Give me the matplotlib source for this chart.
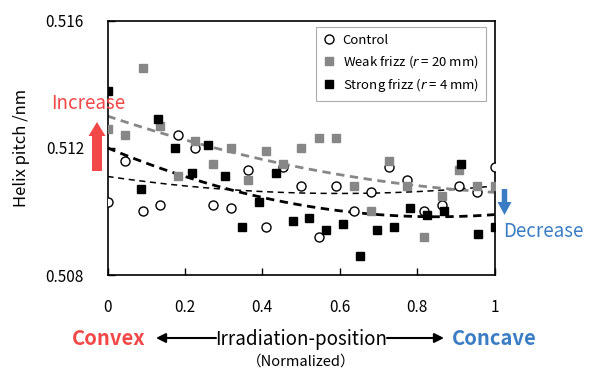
import numpy as np
import matplotlib
matplotlib.use("Agg")
import matplotlib.pyplot as plt

plt.rcParams["font.family"] = ["Noto Sans CJK JP", "DejaVu Sans"]
plt.rcParams["mathtext.fontset"] = "dejavusans"

# data
x_control = [i / 22 for i in range(23)]
control = [0.5103, 0.5116, 0.5100, 0.5102, 0.5124, 0.5120, 0.5102, 0.5101,
           0.5113, 0.5095, 0.5114, 0.5108, 0.5092, 0.5108, 0.5100, 0.5106,
           0.5114, 0.5110, 0.5100, 0.5102, 0.5108, 0.5106, 0.5114]

x_weak = [i / 22 for i in range(23)]
weak = [0.5126, 0.5124, 0.5145, 0.5127, 0.5111, 0.5122, 0.5115, 0.5120,
        0.5110, 0.5119, 0.5115, 0.5120, 0.5123, 0.5123, 0.5108, 0.5100,
        0.5116, 0.5108, 0.5092, 0.5105, 0.5113, 0.5108, 0.5108]

x_strong = [0, 2 / 23, 3 / 23, 4 / 23, 5 / 23, 6 / 23, 7 / 23, 8 / 23, 9 / 23,
            10 / 23, 11 / 23, 12 / 23, 13 / 23, 14 / 23, 15 / 23, 16 / 23,
            17 / 23, 18 / 23, 19 / 23, 20 / 23, 21 / 23, 22 / 23, 1]
strong = [0.5138, 0.5107, 0.5129, 0.5120, 0.5112, 0.5121, 0.5111, 0.5095,
          0.5103, 0.5112, 0.5097, 0.5098, 0.5094, 0.5096, 0.5086, 0.5094,
          0.5095, 0.5101, 0.5099, 0.5100, 0.5115, 0.5093, 0.5095]

# trend line values read at x = 0, 0.5, 1 (second order curves)
trend_x = [0, 0.5, 1]
trend_control = [0.5111, 0.51058, 0.5108]
trend_weak = [0.5130, 0.51138, 0.5106]
trend_strong = [0.5120, 0.51020, 0.50990]

x_ticks = [0, 0.2, 0.4, 0.6, 0.8, 1]
x_tick_labels = ["0", "0.2", "0.4", "0.6", "0.8", "1"]
y_ticks = [0.508, 0.512, 0.516]
y_tick_labels = ["0.508", "0.512", "0.516"]

W, H = 592, 369
RED = "#F24848"
BLUE = "#3B7DC4"
GRAY = "#878787"

fig = plt.figure(figsize=(W / 100, H / 100), dpi=100)
ax = fig.add_axes([107.5 / W, 1 - 275 / H, 387 / W, 254.3 / H])

ax.plot(x_control, control, "o", ms=6.5, mfc="white", mec="black", mew=1.0,
        label="Control", zorder=3)
ax.plot(x_weak, weak, "s", ms=6, color=GRAY, label=r"Weak frizz ($\it{r}$ = 20 mm)", zorder=4)
ax.plot(x_strong, strong, "s", ms=6, color="black", label=r"Strong frizz ($\it{r}$ = 4 mm)", zorder=5)

xx = np.linspace(0, 1, 200)
ax.plot(xx, np.polyval(np.polyfit(trend_x, trend_control, 2), xx), color="black",
        lw=1.1, dashes=(4, 3), zorder=2)
ax.plot(xx, np.polyval(np.polyfit(trend_x, trend_weak, 2), xx), color=GRAY,
        lw=2.0, dashes=(3, 2), zorder=2)
ax.plot(xx, np.polyval(np.polyfit(trend_x, trend_strong, 2), xx), color="black",
        lw=2.0, dashes=(3, 2), zorder=2)

ax.set_xlim(0, 1)
ax.set_ylim(0.508, 0.516)
ax.set_xticks(x_ticks)
ax.set_xticklabels(x_tick_labels)
ax.set_yticks(y_ticks)
ax.set_yticklabels(y_tick_labels)
ax.tick_params(direction="in", length=5, width=1, labelsize=11)
ax.tick_params(axis="x", pad=17)
ax.tick_params(axis="y", pad=17)
for s in ax.spines.values():
    s.set_linewidth(1.2)
ax.set_ylabel("Helix pitch /nm", fontsize=12)
ax.yaxis.set_label_coords(-0.2, 0.5)

leg = ax.legend(loc="upper right", bbox_to_anchor=(0.978, 0.976), borderaxespad=0,
                fancybox=False, edgecolor="#999999", fontsize=9.5, handlelength=0.9,
                handletextpad=0.6, labelspacing=0.45, borderpad=0.55)
leg.get_frame().set_linewidth(0.8)

# overlay in pixel coordinates for the annotations
ov = fig.add_axes([0, 0, 1, 1], zorder=10)
ov.set_xlim(0, W)
ov.set_ylim(H, 0)
ov.axis("off")

ov.text(88, 109, "Increase", color=RED, fontsize=13.5, ha="center", va="baseline")
ov.arrow(97, 171, 0, -49, width=10, head_width=17, head_length=14,
         length_includes_head=True, color=RED, lw=0)
ov.text(543, 237, "Decrease", color=BLUE, fontsize=13.5, ha="center", va="baseline")
ov.arrow(504.5, 189, 0, 26, width=5.5, head_width=14, head_length=13,
         length_includes_head=True, color=BLUE, lw=0)

ov.text(109, 345, "Convex", color=RED, fontsize=14.5, fontweight="bold",
        ha="center", va="baseline")
ov.text(301, 345, "Irradiation-position", color="black", fontsize=13.5,
        ha="center", va="baseline")
ov.text(494, 345, "Concave", color=BLUE, fontsize=14.5, fontweight="bold",
        ha="center", va="baseline")
ov.text(301, 366, "（Normalized）", color="black", fontsize=10.5,
        ha="center", va="baseline")
ov.annotate("", xy=(156, 338), xytext=(216, 338),
            arrowprops=dict(arrowstyle="-|>", color="black", lw=1.5,
                            mutation_scale=14, shrinkA=0, shrinkB=0))
ov.annotate("", xy=(444, 338), xytext=(387, 338),
            arrowprops=dict(arrowstyle="-|>", color="black", lw=1.5,
                            mutation_scale=14, shrinkA=0, shrinkB=0))

fig.savefig("out.png", dpi=100)
